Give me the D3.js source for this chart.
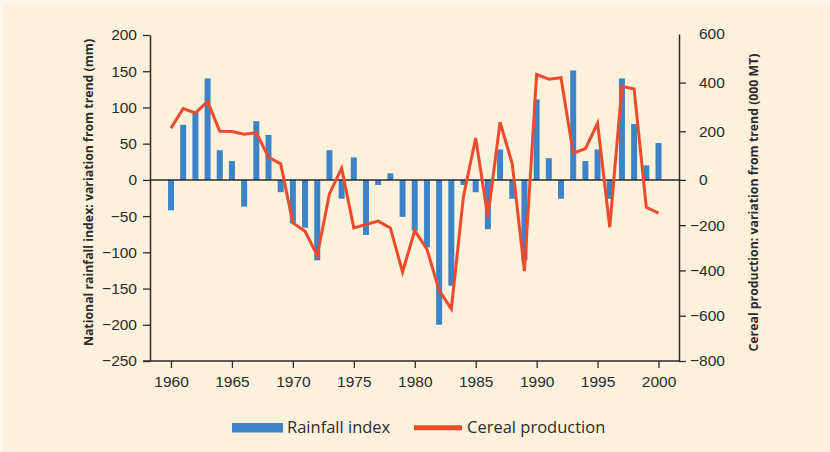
<!DOCTYPE html>
<html>
<head>
<meta charset="utf-8">
<script src="https://cdn.jsdelivr.net/npm/d3@7"></script>
<style>
  html, body { margin: 0; padding: 0; background: #fdf6ea; }
  svg { display: block; font-family: "Open Sans", "Noto Sans", sans-serif; }
  .axis text { fill: #2b2b2b; }
</style>
</head>
<body>
<svg id="chart" width="830" height="452"></svg>
<script>
// Years on the horizontal axis
const years = d3.range(1960, 2001);

// National rainfall index: variation from trend (mm)
const rainfall = [
  -42, 76, 95, 140, 41, 26, -37, 81, 62, -17,
  -60, -66, -111, 41, -26, 31, -76, -7, 9, -51,
  -70, -93, -200, -146, -7, -17, -68, 42, -26, -111,
  111, 30, -26, 151, 26, 42, -26, 140, 77, 20,
  51
];

// Cereal production: variation from trend (000 MT)
const cereal = [
  213, 293, 275, 323, 200, 199, 188, 194, 93, 66,
  -190, -227, -334, -62, 48, -212, -197, -182, -212, -407,
  -224, -306, -488, -570, -72, 172, -165, 237, 66, -403,
  434, 414, 420, 110, 128, 233, -209, 385, 374, -121,
  -147
];

const xTicks = [1960, 1965, 1970, 1975, 1980, 1985, 1990, 1995, 2000];
const leftTicks = d3.range(-250, 201, 50);
const rightTicks = [-800, -600, -400, -200, 0, 200, 400, 600];

const svg = d3.select("#chart");
const ink = "#2b2b2b";
const blue = "#3d83c7";
const red = "#ef4a2b";
const tickFont = 15.5;

// Panel background
svg.append("rect")
  .attr("x", 3).attr("y", 3).attr("width", 827).attr("height", 449)
  .attr("fill", "#fdf1dc");

const plotLeft = 150, plotRight = 679, plotTop = 35, plotBottom = 361;

const x = d3.scaleLinear().domain([1960, 2000]).range([171, 658.5]);
const yL = d3.scaleLinear().domain([-250, 200]).range([plotBottom, plotTop]);
// The production axis is stretched differently above and below zero
const yR = d3.scaleLinear().domain([-800, 0, 600]).range([plotBottom, yL(0), 34]);

const minus = d => d3.format("")(d).replace("-", "\u2212");

// Bars
svg.append("g")
  .selectAll("rect")
  .data(years.map((yr, i) => ({ yr, v: rainfall[i] })))
  .join("rect")
  .attr("x", d => x(d.yr) - 3)
  .attr("width", 6)
  .attr("y", d => yL(Math.max(0, d.v)))
  .attr("height", d => Math.abs(yL(d.v) - yL(0)))
  .attr("fill", blue);

// Zero line
svg.append("line")
  .attr("x1", plotLeft).attr("x2", plotRight)
  .attr("y1", yL(0)).attr("y2", yL(0))
  .attr("stroke", ink).attr("stroke-width", 1.5);

// Cereal production line
svg.append("path")
  .datum(years.map((yr, i) => [yr, cereal[i]]))
  .attr("fill", "none")
  .attr("stroke", red)
  .attr("stroke-width", 3)
  .attr("stroke-linejoin", "miter")
  .attr("d", d3.line().x(d => x(d[0])).y(d => yR(d[1])));

// Left axis
const gL = svg.append("g").attr("class", "axis")
  .attr("transform", `translate(${plotLeft},0)`)
  .call(d3.axisLeft(yL).tickValues(leftTicks).tickSize(7).tickSizeOuter(0).tickPadding(6).tickFormat(minus));
gL.select(".domain").attr("stroke", ink).attr("stroke-width", 1.5);
gL.selectAll(".tick line").attr("stroke", ink).attr("stroke-width", 1.3);
gL.selectAll("text").attr("font-size", tickFont).attr("fill", ink);

// Right axis: digits line up, minus signs hang to the left
const gR = svg.append("g").attr("class", "axis")
  .attr("transform", `translate(${plotRight},0)`)
  .call(d3.axisRight(yR).tickValues(rightTicks).tickSize(7).tickSizeOuter(0).tickPadding(13).tickFormat(minus));
gR.select(".domain").attr("stroke", ink).attr("stroke-width", 1.5);
gR.selectAll(".tick line").attr("stroke", ink).attr("stroke-width", 1.3)
  .filter(d => d === 600).remove();
gR.selectAll("text").attr("font-size", tickFont).attr("fill", ink)
  .attr("x", d => d < 0 ? 11 : 20);

// Bottom axis
const gB = svg.append("g").attr("class", "axis")
  .attr("transform", `translate(0,${plotBottom})`)
  .call(d3.axisBottom(x).tickValues(xTicks).tickSize(7).tickSizeOuter(0).tickPadding(8).tickFormat(d3.format("d")));
gB.select(".domain").remove();
gB.selectAll(".tick line").attr("stroke", ink).attr("stroke-width", 1.3);
gB.selectAll("text").attr("font-size", tickFont).attr("fill", ink);
svg.append("line")
  .attr("x1", plotLeft - 7).attr("x2", plotRight)
  .attr("y1", plotBottom).attr("y2", plotBottom)
  .attr("stroke", ink).attr("stroke-width", 1.5);

// Axis titles
svg.append("text")
  .attr("transform", "translate(93,192.5) rotate(-90)")
  .attr("text-anchor", "middle")
  .attr("font-size", 12.3).attr("font-weight", "bold").attr("fill", ink)
  .text("National rainfall index: variation from trend (mm)");

svg.append("text")
  .attr("transform", "translate(758,202.5) rotate(-90)")
  .attr("text-anchor", "middle")
  .attr("font-size", 12.3).attr("font-weight", "bold").attr("fill", ink)
  .text("Cereal production: variation from trend (000 MT)");

// Legend
const legend = svg.append("g").attr("font-size", 16.5).attr("fill", ink);
legend.append("rect")
  .attr("x", 232).attr("y", 423).attr("width", 51).attr("height", 9.5)
  .attr("fill", blue);
legend.append("text").attr("x", 287).attr("y", 433).text("Rainfall index");
legend.append("line")
  .attr("x1", 414).attr("x2", 462).attr("y1", 427.7).attr("y2", 427.7)
  .attr("stroke", red).attr("stroke-width", 5);
legend.append("text").attr("x", 467).attr("y", 433).text("Cereal production");
</script>
</body>
</html>
